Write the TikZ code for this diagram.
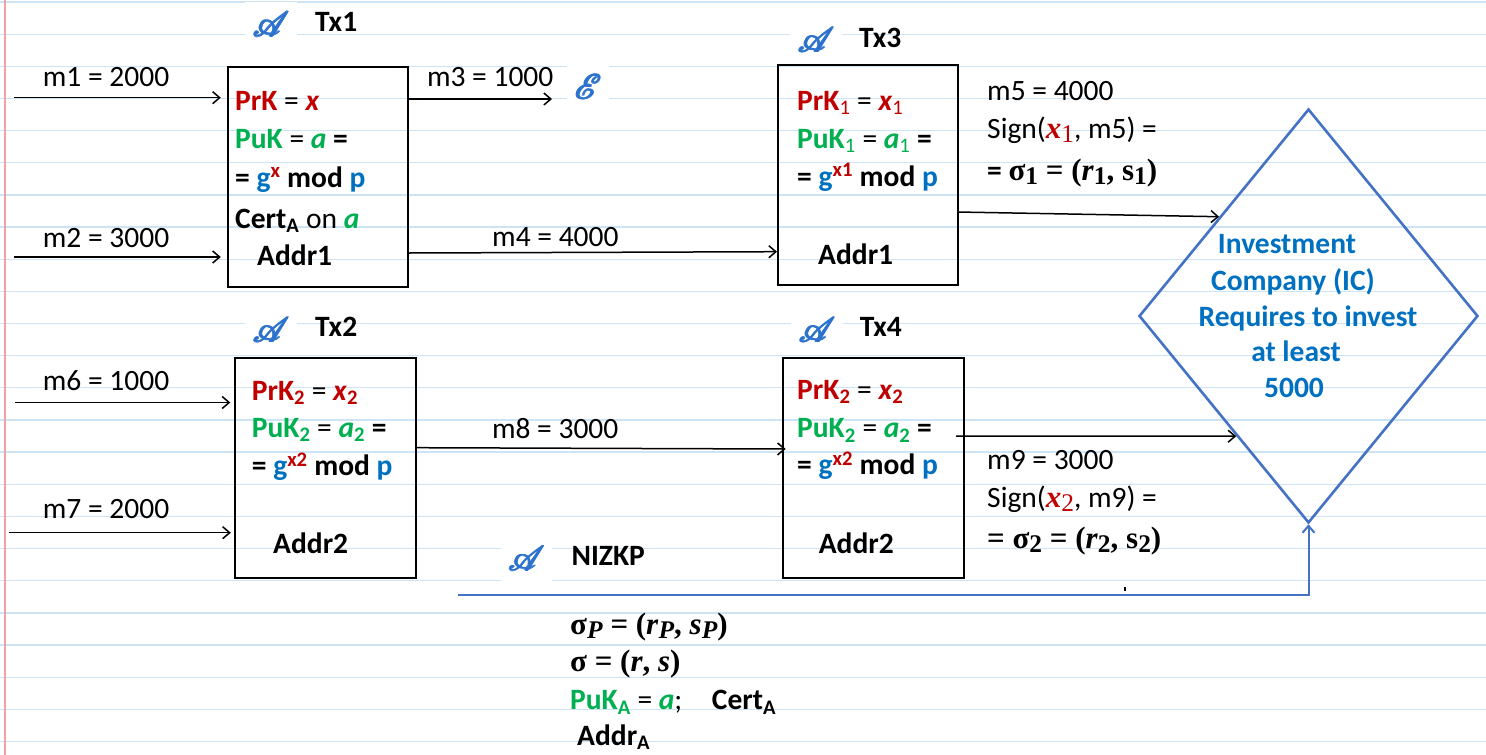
\documentclass[tikz,border=0pt]{standalone}
\usepackage{fontspec}
\usepackage{mathrsfs}
\setmainfont{Carlito}
\newfontfamily\tnr{Liberation Serif}
\usetikzlibrary{arrows.meta,shapes.geometric}
\definecolor{cred}{RGB}{192,0,0}
\definecolor{cgrn}{RGB}{0,176,80}
\definecolor{cblu}{RGB}{0,112,192}
\definecolor{dblue}{RGB}{68,114,196}
\definecolor{iconblue}{RGB}{45,115,205}
\definecolor{paperline}{RGB}{205,228,246}
\definecolor{marginred}{RGB}{242,160,166}
\newcommand{\redt}[1]{\textcolor{cred}{#1}}
\newcommand{\grnt}[1]{\textcolor{cgrn}{#1}}
\newcommand{\blut}[1]{\textcolor{cblu}{#1}}
\newcommand{\lsub}[1]{\raisebox{-0.16em}{\scalebox{0.82}{#1}}}
\newcommand{\bitx}[1]{\textbf{\textit{#1}}}
\newcommand{\fbold}[1]{\rlap{#1}\rlap{\hspace{1.1pt}#1}\rlap{\hspace{0.55pt}\raisebox{0.8pt}{#1}}\rlap{\hspace{0.55pt}\raisebox{-0.6pt}{#1}}\rlap{\hspace{1.6pt}\raisebox{0.3pt}{#1}}\hspace{1.6pt}#1}
\newcommand{\scrA}{\fbold{\scalebox{1.4}{$\mathscr{A}$}}}
\newcommand{\scrE}{\fbold{\scalebox{1.4}{$\mathscr{E}$}}}
\newcommand{\serifbig}{\tnr\fontsize{31}{36}\selectfont\bfseries}
\begin{document}
\begin{tikzpicture}[x=1pt,y=-1pt,
  >={Straight Barb[length=7pt,width=12pt]},
  every node/.style={inner sep=0pt, font=\fontsize{29.5}{35}\selectfont},
  txbox/.style={draw=black, line width=1.8pt, minimum width=180pt, minimum height=220pt, anchor=north west},
  lbl/.style={anchor=base west},
  ttl/.style={anchor=base west, font=\fontsize{29.5}{35}\selectfont\bfseries},
  ico/.style={fill=white, text=iconblue, inner xsep=7pt, inner ysep=10pt},
  dtxt/.style={anchor=base, text=cblu, font=\fontsize{29.5}{35}\selectfont\bfseries},
  arr/.style={->, line width=1.5pt, black},
  bluearr/.style={->, line width=2pt, draw=dblue}]
% page
\useasboundingbox (0,0) rectangle (1486,755);
\fill[white] (0,0) rectangle (1486,755);
\foreach \k in {0,...,23}
  \draw[paperline, line width=1.3pt] (0,{2+32.15*\k}) -- (1486,{2+32.15*\k});
\draw[marginred, line width=1.6pt] (5,0) -- (5,755);

% boxes
\node[txbox] (t1) at (227.3,65.7) {};
\node[txbox] (t3) at (777,64) {};
\node[txbox, minimum width=180.4pt] (t2) at (234.3,356.7) {};
\node[txbox, minimum width=181pt] (t4) at (781.8,357.3) {};

% titles
\node[ico] (a1) at (271,24.5) {\scrA};
\node[ttl] (n1) at (315,31.7) {Tx1};
\node[ico] (a3) at (816,40) {\scrA};
\node[ttl] (n3) at (859,47.7) {Tx3};
\node[ico] (a2) at (271,330) {\scrA};
\node[ttl] (n2) at (315,336.7) {Tx2};
\node[ico] (a4) at (817,330) {\scrA};
\node[ttl] (n4) at (859.6,336.7) {Tx4};
\node[ico] (a5) at (526.5,558.7) {\scrA};
\node[ttl] (n5) at (571.4,565) {NIZKP};
\node[ico] (eve) at (588,87) {\scrE};

% Tx1 content
\node[lbl] (t1a) at (235,110) {\redt{\textbf{PrK}} = \redt{\bitx{x}}};
\node[lbl] (t1b) at (235,148) {\grnt{\textbf{PuK}} = \grnt{\bitx{a}} \textbf{=}};
\node[lbl] (t1c) at (235,187) {\textbf{= \blut{g}\textsuperscript{\redt{x}} mod \blut{p}}};
\node[lbl] (t1d) at (235,228) {\textbf{Cert\textsubscript{A}} on \grnt{\bitx{a}}};
\node[lbl] (t1e) at (257,265) {\textbf{Addr1}};

% Tx3 content
\node[lbl] (t3a) at (797,110) {\redt{\textbf{PrK}\textsubscript{1}} = \redt{\bitx{x}\textsubscript{1}}};
\node[lbl] (t3b) at (797,148) {\grnt{\textbf{PuK}\textsubscript{1}} = \grnt{\bitx{a}\textsubscript{1}} \textbf{=}};
\node[lbl] (t3c) at (797,186) {\textbf{= \blut{g}\textsuperscript{\redt{x1}} mod \blut{p}}};
\node[lbl] (t3e) at (818,264) {\textbf{Addr1}};

% Tx2 content
\node[lbl] (t2a) at (251.7,400) {\redt{\textbf{PrK}\textsubscript{\textbf{2}}} = \redt{\bitx{x}\textsubscript{\textbf{2}}}};
\node[lbl] (t2b) at (251.7,437) {\grnt{\textbf{PuK}\textsubscript{\textbf{2}}} = \grnt{\bitx{a}\textsubscript{\textbf{2}}} \textbf{=}};
\node[lbl] (t2c) at (251.7,475.7) {\textbf{= \blut{g}\textsuperscript{\redt{x2}} mod \blut{p}}};
\node[lbl] (t2e) at (273,553) {\textbf{Addr2}};

% Tx4 content
\node[lbl] (t4a) at (797,399) {\redt{\textbf{PrK}\textsubscript{\textbf{2}}} = \redt{\bitx{x}\textsubscript{\textbf{2}}}};
\node[lbl] (t4b) at (797,437.3) {\grnt{\textbf{PuK}\textsubscript{\textbf{2}}} = \grnt{\bitx{a}\textsubscript{\textbf{2}}} \textbf{=}};
\node[lbl] (t4c) at (797,474.3) {\textbf{= \blut{g}\textsuperscript{\redt{x2}} mod \blut{p}}};
\node[lbl] (t4e) at (818.6,553.3) {\textbf{Addr2}};

% signature blocks
\node[lbl] (s5a) at (987,100.7) {m5 = 4000};
\node[lbl] (s5b) at (987,138) {Sign(\redt{{\tnr\fontsize{31}{36}\selectfont\bfseries\itshape x}{\tnr\fontsize{31}{36}\selectfont\lsub{1}}}, m5) =};
\node[lbl] (s5c) at (987,180) {\textbf{=} {\serifbig σ\lsub{1} = (\textit{r}\lsub{1}, s\lsub{1})}};
\node[lbl] (s9a) at (987,469.3) {m9 = 3000};
\node[lbl] (s9b) at (987,507) {Sign(\redt{{\tnr\fontsize{31}{36}\selectfont\bfseries\itshape x}{\tnr\fontsize{31}{36}\selectfont\lsub{2}}}, m9) =};
\node[lbl] (s9c) at (987,548) {{\serifbig = σ\lsub{2} = (\textit{r}\lsub{2}, s\lsub{2})}};

% NIZKP block
\node[lbl] (p1) at (570,634) {{\serifbig σ\lsub{\textit{P}} = (\textit{r}\lsub{\textit{P}}, \textit{s}\lsub{\textit{P}})}};
\node[lbl] (p2) at (570,671.7) {{\serifbig σ = (\textit{r}, \textit{s})}};
\node[lbl] (p3) at (570,709.3) {\grnt{\textbf{PuK}\textsubscript{\textbf{A}}} = \grnt{\bitx{a}};};
\node[lbl] (p4) at (711.7,709.3) {\textbf{Cert\textsubscript{A}}};
\node[lbl] (p5) at (577,745) {\textbf{Addr\textsubscript{A}}};

% diamond
\node[diamond, draw=dblue, line width=2.6pt, minimum width=339pt, minimum height=414pt] (ic) at (1308.5,316) {};
\node[dtxt] (d1) at (1287,253) {Investment};
\node[dtxt] (d2) at (1293,290) {Company (IC)};
\node[dtxt] (d3) at (1308,326.7) {Requires to invest};
\node[dtxt] (d4) at (1296,361.7) {at least};
\node[dtxt] (d5) at (1294,397) {5000};

% labels
\node[lbl] (l1) at (42.7,86) {m1 = 2000};
\node[lbl] (l2) at (42.7,247) {m2 = 3000};
\node[lbl] (l3) at (426.8,86) {m3 = 1000};
\node[lbl] (l4) at (492,246) {m4 = 4000};
\node[lbl] (l6) at (42.7,390.7) {m6 = 1000};
\node[lbl] (l7) at (42.7,518) {m7 = 2000};
\node[lbl] (l8) at (491.8,438.3) {m8 = 3000};

% connectors
\coordinate (s1) at (14,97.7);
\coordinate (s2) at (14,257);
\coordinate (s6) at (15,402.5);
\coordinate (s7) at (9,532.7);
\coordinate (e3) at (552,99);
\coordinate (m4a) at (0,253);
\coordinate (m4b) at (0,251.7);
\coordinate (m8a) at (0,447.7);
\coordinate (m8b) at (785.7,449);
\coordinate (o3) at (957,212);
\coordinate (o4) at (956,436);
\coordinate (nz) at (458,595);
\draw[arr, shorten >=6.5pt] (s1) -- (s1 -| t1.west);
\draw[arr, shorten >=6.5pt] (s2) -- (s2 -| t1.west);
\draw[arr, shorten >=4pt] (s6) -- (s6 -| t2.west);
\draw[arr, shorten >=3.5pt] (s7) -- (s7 -| t2.west);
\draw[arr] (e3 -| t1.east) -- (e3);
\draw[arr] (t1.east |- m4a) -- (t3.west |- m4b);
\draw[arr] (t2.east |- m8a) -- (m8b);
\draw[arr] (o3) -- (ic.132);
\draw[arr] (o4) -- (ic.239.4);
\draw[bluearr] (nz) -- (nz -| ic.south) -- (ic.south);
\coordinate (tk) at (1125,587);
\draw[line width=1.2pt] (tk) -- ++(0,4);
\end{tikzpicture}
\end{document}
